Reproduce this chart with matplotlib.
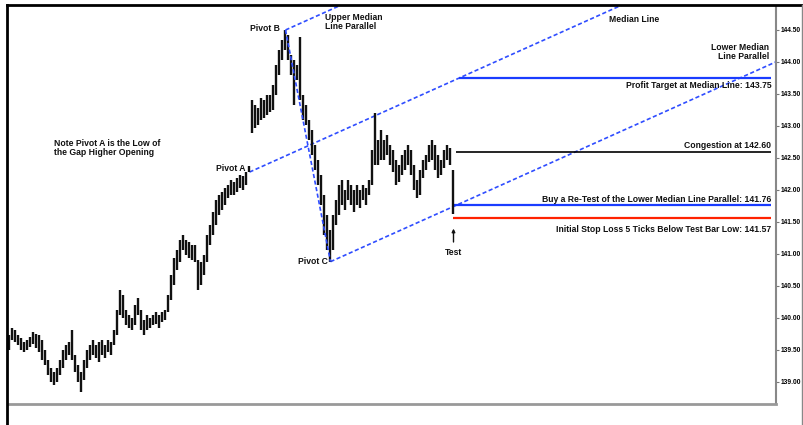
import numpy as np
import matplotlib
matplotlib.use("Agg")
import matplotlib.pyplot as plt
from matplotlib.lines import Line2D

## PRICE DATA
# one high/low pair per bar
highs = [139.73, 139.84, 139.81, 139.73, 139.69, 139.63, 139.66, 139.70, 139.78, 139.75,
         139.73, 139.66, 139.50, 139.34, 139.22, 139.16, 139.22, 139.34, 139.50, 139.58,
         139.63, 139.81, 139.42, 139.27, 139.16, 139.34, 139.50, 139.58, 139.66, 139.58,
         139.63, 139.66, 139.58, 139.66, 139.63, 139.81, 140.13, 140.44, 140.36, 140.13,
         140.05, 140.00, 140.20, 140.31, 140.13, 139.97, 140.05, 140.00, 140.05, 140.09,
         140.05, 140.09, 140.13, 140.36, 140.67, 140.94, 141.06, 141.22, 141.30, 141.22,
         141.19, 141.14, 141.14, 140.91, 140.88, 140.98, 141.30, 141.45, 141.66, 141.84,
         141.92, 141.97, 142.03, 142.08, 142.16, 142.13, 142.19, 142.23, 142.22, 142.28,
         142.38, 143.41, 143.33, 143.28, 143.44, 143.41, 143.48, 143.48, 143.64, 143.95,
         144.19, 144.34, 144.50, 144.42, 144.11, 144.03, 143.95, 144.39, 143.48, 143.33,
         143.09, 142.94, 142.70, 142.47, 142.23, 141.92, 141.61, 141.38, 141.61, 141.84,
         142.08, 142.16, 142.00, 142.16, 142.08, 142.00, 142.08, 142.00, 142.08, 142.03,
         142.16, 142.63, 143.20, 142.78, 142.94, 142.78, 142.86, 142.70, 142.63, 142.47,
         142.39, 142.55, 142.63, 142.70, 142.63, 142.39, 142.16, 142.31, 142.47, 142.55,
         142.70, 142.78, 142.70, 142.55, 142.47, 142.63, 142.70, 142.66, 142.31]
lows = [139.50, 139.66, 139.63, 139.58, 139.50, 139.47, 139.50, 139.55, 139.59, 139.53,
        139.47, 139.34, 139.27, 139.11, 139.00, 138.95, 139.00, 139.11, 139.22, 139.34,
        139.42, 139.34, 139.16, 139.00, 138.84, 139.03, 139.22, 139.34, 139.42, 139.38,
        139.31, 139.42, 139.38, 139.47, 139.42, 139.58, 139.73, 140.05, 140.00, 139.89,
        139.84, 139.81, 139.89, 140.05, 139.81, 139.73, 139.81, 139.84, 139.89, 139.91,
        139.84, 139.94, 139.97, 140.09, 140.28, 140.52, 140.75, 140.88, 141.06, 140.98,
        140.94, 140.91, 140.88, 140.44, 140.52, 140.67, 140.88, 141.14, 141.30, 141.45,
        141.61, 141.69, 141.77, 141.88, 141.92, 141.92, 141.97, 142.03, 142.00, 142.08,
        142.28, 142.89, 142.97, 143.02, 143.09, 143.13, 143.17, 143.22, 143.25, 143.48,
        143.80, 144.03, 144.19, 144.03, 143.80, 143.33, 143.72, 143.41, 143.09, 143.02,
        142.78, 142.55, 142.31, 142.08, 141.77, 141.30, 141.06, 140.88, 141.06, 141.45,
        141.61, 141.77, 141.69, 141.84, 141.77, 141.66, 141.77, 141.72, 141.84, 141.77,
        141.92, 142.08, 142.39, 142.39, 142.47, 142.47, 142.55, 142.39, 142.28, 142.08,
        142.13, 142.23, 142.31, 142.39, 142.23, 142.00, 141.88, 141.92, 142.19, 142.31,
        142.44, 142.47, 142.31, 142.19, 142.23, 142.34, 142.47, 142.39, 141.62]

# pivot bars (index into the bars above)
pivot_a = 80   # low
pivot_b = 92   # high
pivot_c = 107  # low
test_bar = 148

# trade levels
profit_target = 143.75
congestion = 142.60
buy_level = 141.76
stop_level = 141.57
price_ticks = [139.0, 139.5, 140.0, 140.5, 141.0, 141.5, 142.0, 142.5, 143.0, 143.5, 144.0, 144.5]

bars = np.arange(len(highs))
highs = np.array(highs)
lows = np.array(lows)

## PITCHFORK
ax_, ay = pivot_a, lows[pivot_a]
bx, by = pivot_b, highs[pivot_b]
cx, cy = pivot_c, lows[pivot_c]
mx, my = (bx + cx) / 2, (by + cy) / 2
slope = (my - ay) / (mx - ax_)
x_end = 260

fig = plt.figure(figsize=(8.04, 4.25), dpi=100)
ax = fig.add_axes([8 / 804, 21 / 425, 768 / 804, 398 / 425])
ax.set_xlim(-0.5, 255.5)
ax.set_ylim(138.656, 144.875)

ax.vlines(bars, lows, highs, color="#111111", lw=1.7, zorder=3)

blue = "#2f4dff"
dash = (0, (2.5, 1.5))
ax.plot([ax_, x_end], [ay, ay + slope * (x_end - ax_)], color=blue, lw=1.2, ls=dash)
ax.plot([bx, x_end], [by, by + slope * (x_end - bx)], color=blue, lw=1.2, ls=dash)
ax.plot([cx, 255.7], [cy, cy + slope * (255.7 - cx)], color=blue, lw=1.2, ls=dash)
ax.plot([bx, cx], [by, cy], color=blue, lw=1.2, ls=dash, zorder=4)

# horizontal trade levels
ax.hlines(profit_target, 149.7, 254, color="#1a3cff", lw=1.6)
ax.hlines(congestion, 149, 254, color="black", lw=1.2)
ax.hlines(buy_level, test_bar, 254, color="#1a3cff", lw=1.6)
ax.hlines(stop_level, test_bar, 254, color="#ff2200", lw=1.6)

## LABELS
fs = dict(fontsize=6.2, fontweight="bold", family=["Liberation Sans", "DejaVu Sans"], color="#111111")
ax.text(90, 144.53, "Pivot B", ha="right", va="center", **fs)
ax.text(105.3, 144.77, "Upper Median\nLine Parallel", ha="left", va="top", linespacing=1.0, **fs)
ax.text(199.7, 144.67, "Median Line", ha="left", va="center", **fs)
ax.text(253.3, 144.16, "Lower Median\nLine Parallel", ha="right", va="center", linespacing=1.0, **fs)
ax.text(254, 143.64, "Profit Target at Median Line: %.2f" % profit_target, ha="right", va="center", **fs)
ax.text(254, 142.63, "Congestion at %.2f" % congestion, ha="right", va="bottom", **fs)
ax.text(254, 141.85, "Buy a Re-Test of the Lower Median Line Parallel: %.2f" % buy_level,
        ha="right", va="center", **fs)
ax.text(254, 141.39, "Initial Stop Loss 5 Ticks Below Test Bar Low: %.2f" % stop_level,
        ha="right", va="center", **fs)
ax.text(106, 140.89, "Pivot C", ha="right", va="center", **fs)
ax.text(78.7, 142.34, "Pivot A", ha="right", va="center", **fs)
ax.text(15, 142.66, "Note Pivot A is the Low of\nthe Gap Higher Opening", ha="left", va="center",
        linespacing=1.0, **fs)
ax.annotate("Test", xy=(test_bar, 141.44), xytext=(test_bar, 141.03), ha="center", va="center",
            arrowprops=dict(arrowstyle="-|>,head_width=0.15,head_length=0.3", color="#111111", lw=1),
            **fs)

## AXES STYLE
ax.yaxis.tick_right()
ax.set_yticks(price_ticks)
ax.set_yticklabels(["%.2f" % t for t in price_ticks], fontsize=4.8, fontweight="bold",
                   family=["Liberation Sans", "DejaVu Sans"])
ax.tick_params(axis="y", length=2, pad=1, color="#777777")
ax.set_xticks([])
ax.spines["left"].set_visible(False)
ax.spines["top"].set_visible(False)
ax.spines["right"].set_color("#888888")
ax.spines["right"].set_linewidth(1.5)
ax.spines["bottom"].set_color("#999999")
ax.spines["bottom"].set_linewidth(2)

# outer frame
fig.add_artist(Line2D([7 / 804, 7 / 804], [0, 420 / 425], color="black", lw=2))
fig.add_artist(Line2D([7 / 804, 1], [420 / 425, 420 / 425], color="black", lw=2))
fig.add_artist(Line2D([802 / 804, 802 / 804], [0, 420 / 425], color="#888888", lw=1))

fig.savefig("out.png", dpi=100)
